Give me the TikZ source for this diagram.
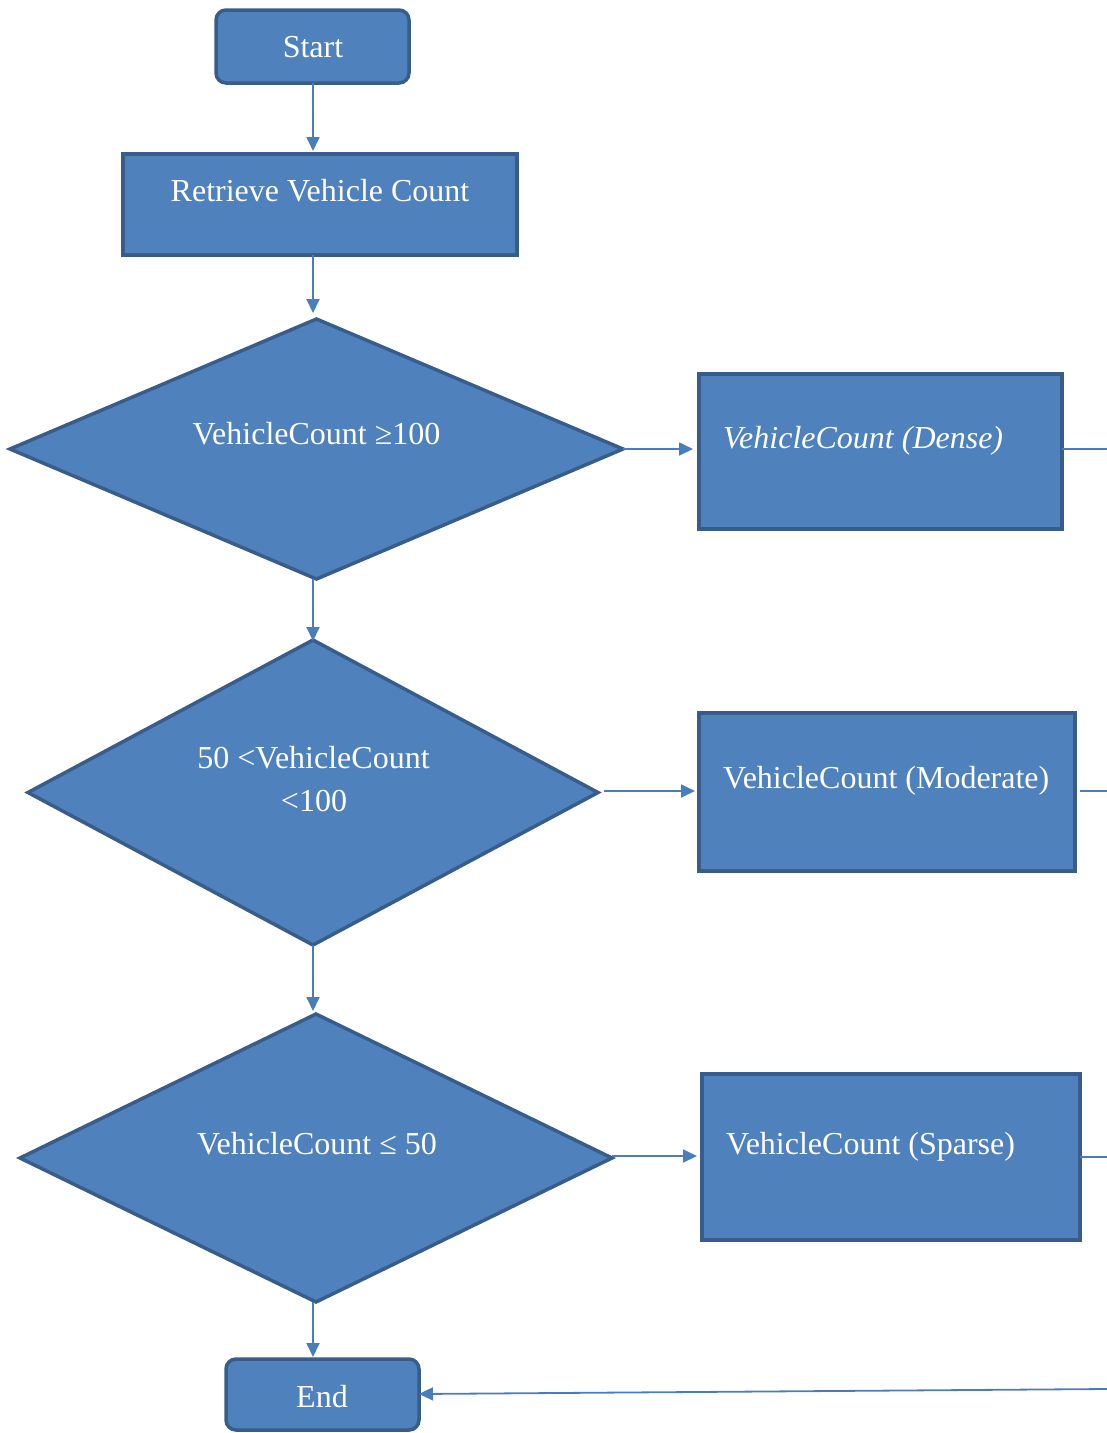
\documentclass[tikz,border=0pt]{standalone}
\usepackage{fontspec}
\setmainfont{Liberation Serif}
\usetikzlibrary{shapes.geometric,arrows.meta}
\definecolor{fillb}{HTML}{4F81BD}
\definecolor{edgeb}{HTML}{385D8A}
\definecolor{lineb}{HTML}{4A7EBB}
\begin{document}
\begin{tikzpicture}[x=1pt,y=-1pt,
  shapebase/.style={draw=edgeb,fill=fillb,line width=3.5pt,inner sep=0pt,outer sep=0pt},
  roundshape/.style={shapebase,rectangle,rounded corners=10pt},
  decision/.style={shapebase,diamond},
  lbl/.style={text=white,font=\fontsize{32}{38}\selectfont,anchor=base,inner sep=0pt},
  conn/.style={draw=lineb,line width=1.8pt,-{Triangle[length=14pt,width=13pt]}},
  plainconn/.style={draw=lineb,line width=1.8pt}]
\useasboundingbox (0,0) rectangle (1107,1433);
% shapes
\node[roundshape,minimum width=193pt,minimum height=73pt] (start) at (312.5,46.5) {};
\node[shapebase,rectangle,minimum width=394pt,minimum height=101pt] (retr) at (320,204.5) {};
\node[decision,minimum width=613pt,minimum height=260pt] (d1) at (316.5,449) {};
\node[decision,minimum width=570pt,minimum height=305pt] (d2) at (313,792.5) {};
\node[decision,minimum width=592pt,minimum height=288pt] (d3) at (316,1158) {};
\node[shapebase,rectangle,minimum width=363pt,minimum height=155pt] (dense) at (880.5,451.5) {};
\node[shapebase,rectangle,minimum width=376pt,minimum height=158pt] (mod) at (887,792) {};
\node[shapebase,rectangle,minimum width=378pt,minimum height=166pt] (sparse) at (891,1157) {};
\node[roundshape,minimum width=193pt,minimum height=71pt] (end) at (322.5,1394.5) {};
% labels
\node[lbl] (tstart) at (313,57) {Start};
\node[lbl] (tretr) at (320,201) {Retrieve Vehicle Count};
\node[lbl] (td1) at (316.5,444) {VehicleCount ≥100};
\node[lbl] (td2a) at (313.5,768) {50 <VehicleCount};
\node[lbl] (td2b) at (314,811) {<100};
\node[lbl] (td3) at (317,1154) {VehicleCount ≤ 50};
\node[lbl,anchor=base west] (tdense) at (723,448) {\itshape VehicleCount (Dense)};
\node[lbl,anchor=base west] (tmod) at (723,788) {VehicleCount (Moderate)};
\node[lbl,anchor=base west] (tsparse) at (726,1154) {VehicleCount (Sparse)};
\node[lbl] (tend) at (322,1407) {End};
% free ends at the right edge
\coordinate (rdense) at (1107,449);
\coordinate (rmod) at (1107,791);
\coordinate (rsparse) at (1107,1157);
\coordinate (rend) at (1107,1389);
% connectors
\draw[conn] (start.south -| 313,0) -- (313,151);
\draw[conn] (retr.south -| 313,0) -- (313,313);
\draw[conn] (d1.south -| 313,0) -- (313,641);
\draw[conn] (d2.south) -- (313,1011);
\draw[conn] (d3.south -| 313,0) -- (313,1357);
\draw[conn] (d1.east) -- (693,449);
\draw[conn] (604,791) -- (695,791);
\draw[conn] (612,1156) -- (697,1156);
\draw[plainconn] (dense.east |- rdense) -- (rdense);
\draw[plainconn] (1080,791) -- (rmod);
\draw[plainconn] (sparse.east |- rsparse) -- (rsparse);
\draw[conn] (rend) -- (end.east |- 0,1394);
\end{tikzpicture}
\end{document}
